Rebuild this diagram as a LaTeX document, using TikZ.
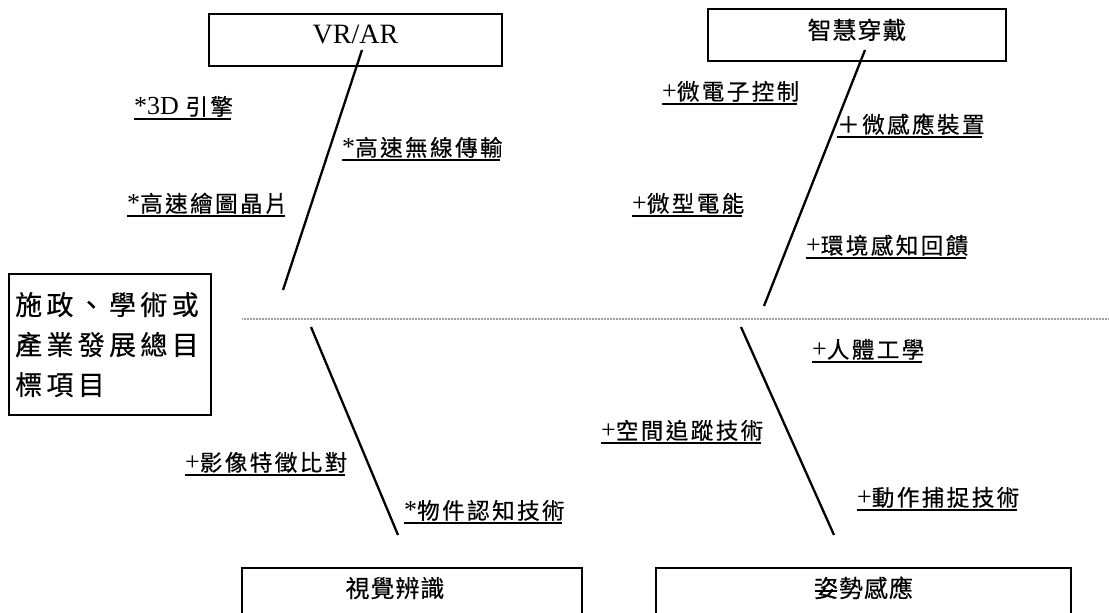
\documentclass[tikz,border=0pt]{standalone}
\usepackage{fontspec}
\setmainfont{Liberation Serif}
\newfontfamily\zhlab[LetterSpace=11,FakeBold=0.5]{Noto Sans CJK TC}
\newfontfamily\zhbox[LetterSpace=4,FakeBold=0.4]{Noto Sans CJK TC}
\newfontfamily\zhgoal[LetterSpace=16,FakeBold=0.5]{Noto Sans CJK TC}
\newcommand\zl[1]{{\fontsize{22.5}{24}\zhlab #1\kern-2.5pt}}

\begin{document}
\begin{tikzpicture}[x=1pt, y=1pt,
  every node/.style = {inner sep=0pt},
  cause/.style = {draw, line width=2.3pt, minimum height=52pt,
    text height=20pt, text depth=12pt, font=\fontsize{24}{26}\zhbox},
  bottomcause/.style = {draw, line width=2.3pt, anchor=north, inner ysep=9pt,
    text height=20pt, text depth=40pt, font=\fontsize{24}{26}\zhbox},
  item/.style = {anchor=south west, inner ysep=2pt,
    font=\fontsize{26}{28}\selectfont},
  bone/.style = {line width=2.3pt},
  axis/.style = {draw=gray!75, line width=2.2pt, dash pattern=on 1pt off 0.5pt},
  uline/.style = {line width=2pt}]
  \useasboundingbox (0,0) rectangle (1109,613);
  \clip (0,0) rectangle (1109,613);

  % goal box
  \node[draw, line width=2.3pt, anchor=north west, text width=190pt,
    inner xsep=6pt, inner ysep=18pt, align=left,
    font=\fontsize{27}{40}\zhgoal] (goal) at (8,340)
    {施政、學術或\\產業發展總目\\標項目};

  % the four causes
  \node[cause, minimum width=293pt] (vrar) at (355.5,573)
    {\rmfamily\fontsize{28}{30}\selectfont VR/AR};
  \node[cause, minimum width=298pt] (wear) at (857,578) {智慧穿戴};
  \node[bottomcause, minimum width=340pt] (vision) at (412,46)
    {\hspace*{-34pt}視覺辨識};
  \node[bottomcause, minimum width=415pt] (pose) at (863.5,46) {姿勢感應};

  % spine and bones
  \coordinate (axisL) at (242,294);
  \coordinate (axisR) at (1109,294);
  \draw[axis] (axisL) -- (axisR);

  \coordinate (vrtop) at (362,563);
  \coordinate (vrend) at (283,323);
  \coordinate (weartop) at (865,563);
  \coordinate (wearend) at (764,307);
  \coordinate (visiontop) at (311,286);
  \coordinate (visionend) at (398,78);
  \coordinate (posetop) at (741,286);
  \coordinate (poseend) at (834,78);
  \draw[bone] (vrtop) -- (vrend);
  \draw[bone] (weartop) -- (wearend);
  \draw[bone] (visiontop) -- (visionend);
  \draw[bone] (posetop) -- (poseend);

  % sub causes
  \node[item] (l3d) at (134,494) {*3D \zl{引擎}};
  \node[item] (lwireless) at (342,453) {*\zl{高速無線傳輸}};
  \node[item] (lgpu) at (127,397) {*\zl{高速繪圖晶片}};
  \node[item] (lmicroctl) at (662,509) {+\zl{微電子控制}};
  \node[item] (lmicrosense) at (837,476) {\zl{＋微感應裝置}};
  \node[item] (lmicropower) at (632,397) {+\zl{微型電能}};
  \node[item] (lenvfb) at (806,355) {+\zl{環境感知回饋}};
  \node[item] (limgmatch) at (185,138) {+\zl{影像特徵比對}};
  \node[item] (lobjrec) at (404,90) {*\zl{物件認知技術}};
  \node[item] (lergo) at (812,251) {+\zl{人體工學}};
  \node[item] (lspatial) at (601,170) {+\zl{空間追蹤技術}};
  \node[item] (lmocap) at (857,103) {+\zl{動作捕捉技術}};

  \foreach \n in {l3d,lwireless,lgpu,lmicroctl,lmicrosense,lmicropower,
      lenvfb,limgmatch,lobjrec,lergo,lspatial,lmocap}
    \draw[uline] (\n.south west) -- (\n.south east);
\end{tikzpicture}
\end{document}
